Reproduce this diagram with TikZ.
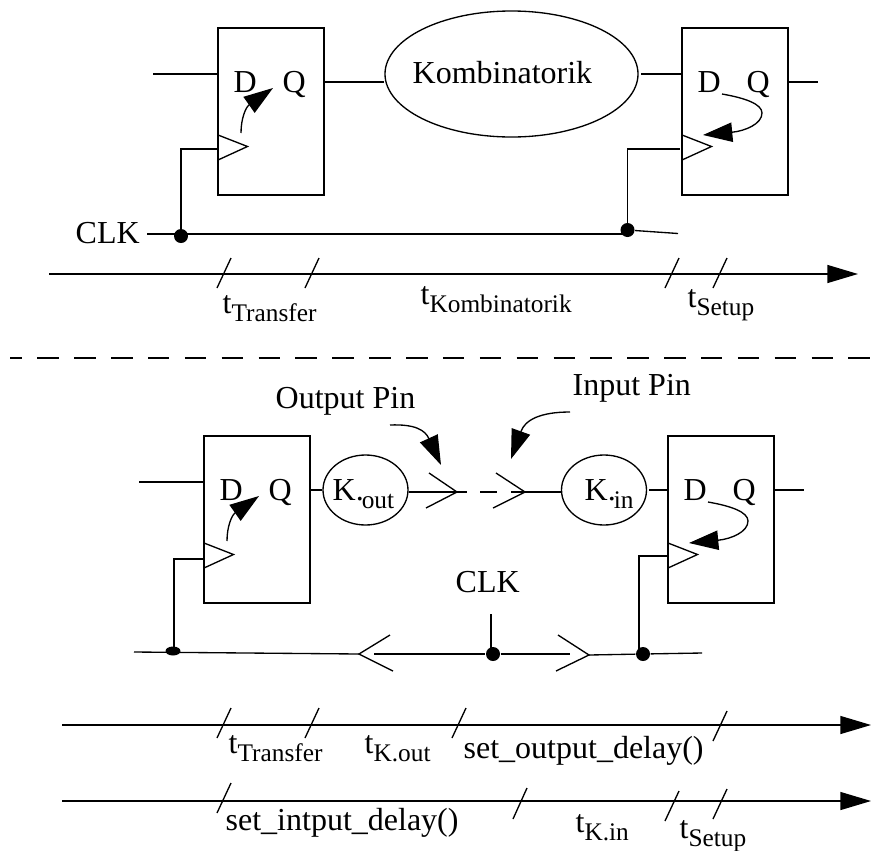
\documentclass[tikz,border=0pt]{standalone}
\usepackage{fontspec}
\setmainfont{Liberation Serif}
\usetikzlibrary{arrows.meta,shapes.geometric}
\newcommand{\subtxt}[1]{\raisebox{-6pt}{\fontsize{19}{22}\selectfont #1}}
\newcommand{\tlabel}[1]{t\subtxt{#1}}
\tikzset{
  sigtext/.style={anchor=base west, inner sep=0pt, font=\fontsize{24}{28}\selectfont},
  ffbox/.style={draw, minimum width=79.5pt, minimum height=125.25pt, inner sep=0pt},
  cloud/.style={draw, ellipse, inner sep=0pt},
  jdot/.style={fill=black, circle, minimum size=10.5pt, inner sep=0pt},
  bigtip/.style={-{Triangle[length=22pt,width=14.5pt]}},
  axtip/.style={-{Triangle[length=23pt,width=13.5pt]}},
}
\begin{document}
\begin{tikzpicture}[x=0.75pt, y=-0.75pt, line width=1pt]
  \useasboundingbox (0,0) rectangle (885,850);
  % Flip-flops
  \foreach \nm/\x/\y in {ffa/218/28, ffb/682/28, ffc/204/436, ffd/668/436} {
    \node[ffbox] (\nm) at (\x+53,\y+83.5) {};
    \node[sigtext] (\nm d) at (\x+15,\y+64) {D};
    \node[sigtext] (\nm q) at (\x+64,\y+64) {Q};
    \draw (\x,\y+107) -- (\x+29.5,\y+118.5) -- (\x,\y+132);
  }
  % Transfer arrows
  \foreach \x/\y in {218/28, 204/436}
    \draw[bigtip, shift={(\x,\y)}] (23,105) .. controls (23,90) and (28,79) .. (55,60);
  % Setup arrows
  \foreach \x/\y in {682/28, 668/436}
    \draw[bigtip, shift={(\x,\y)}] (40,66) .. controls (63,70) and (80,76) .. (80,85)
        .. controls (80,96) and (63,103) .. (21,107);
  % Top logic
  \node[cloud, minimum width=189.75pt, minimum height=94.5pt] (komb) at (511.5,74) {};
  \node[sigtext] (kombt) at (412,83) {Kombinatorik};
  \coordinate (ina) at (153,74);
  \coordinate (qa) at (324,82);
  \coordinate (kombe) at (641,74);
  \coordinate (qb) at (818,82);
  \draw (ina) -- (ffa.west |- ina);
  \draw (qa) -- (komb.west |- qa);
  \draw (kombe) -- (ffb.west |- kombe);
  \draw (ffb.east |- qb) -- (qb);
  % Top clock
  \node[sigtext] (clkt) at (75,243) {CLK};
  \node[jdot] (dota) at (181,236) {};
  \node[jdot] (dotb) at (627.5,230) {};
  \coordinate (clkw) at (147,234);
  \coordinate (clke) at (678,233.5);
  \coordinate (clka) at (218,149);
  \coordinate (clkb) at (680,149);
  \draw (clkw) -- (dotb |- clkw);
  \draw (dotb) -- (clke);
  \draw (dota.center) |- (clka);
  \draw (dotb.center) |- (clkb);
  % Top time line
  \coordinate (axas) at (49,274);
  \coordinate (axae) at (858,274);
  \draw[axtip] (axas) -- (axae);
  \foreach \x in {217,305,665,713} \draw (\x,288) -- ++(14,-30);
  \node[sigtext] (ta) at (222,313) {\tlabel{Transfer}};
  \node[sigtext] (tb) at (420,304) {\tlabel{Kombinatorik}};
  \node[sigtext] (tc) at (687,307) {\tlabel{Setup}};
  % Separator
  \coordinate (sepa) at (10,358);
  \coordinate (sepb) at (870,358);
  \draw[dash pattern=on 16.1pt off 11.55pt, dash phase=7.1pt] (sepa) -- (sepb);
  % Bottom logic
  \node[cloud, minimum width=63.75pt, minimum height=52.5pt] (kout) at (365.5,490) {};
  \node[cloud, minimum width=63.75pt, minimum height=52.5pt] (kin) at (604,490) {};
  \node[sigtext] (koutt) at (332,500) {K.\kern-1.5pt\subtxt{out}};
  \node[sigtext] (kint) at (584,500) {K.\kern-1.5pt\subtxt{in}};
  \coordinate (inc) at (139,482);
  \coordinate (kine) at (649,490);
  \coordinate (qd) at (804,490);
  \coordinate (pina) at (457,492);
  \coordinate (pinb) at (525,492);
  \draw (inc) -- (ffc.west |- inc);
  \draw (ffc.east |- kout) -- (kout);
  \draw (kine) -- (ffd.west |- kine);
  \draw (ffd.east |- qd) -- (qd);
  \draw (kout.east |- pina) -- (467,492);
  \draw (480,492) -- (497,492);
  \draw (511,492) -- (kin.west |- pinb);
  \draw (429,473) -- (pina) -- (426,508);
  \draw (496,473) -- (pinb) -- (493,508);
  % Pin labels
  \node[sigtext] (outpin) at (275,408) {Output Pin};
  \node[sigtext] (inpin) at (572,395) {Input Pin};
  \coordinate (outa) at (390,425);
  \coordinate (outb) at (441,465);
  \coordinate (inb) at (570,412);
  \coordinate (inz) at (511,459);
  \draw[bigtip] (outa) .. controls (415,424) and (425,430) .. (outb);
  \draw[bigtip] (inb) .. controls (540,412) and (525,420) .. (inz);
  % Bottom clock
  \node[sigtext] (clkm) at (455,592) {CLK};
  \node[fill=black, ellipse, minimum width=11.25pt, minimum height=6.75pt, inner sep=0pt] (dotc) at (173,651) {};
  \node[jdot] (dote) at (493,654) {};
  \node[jdot] (dotd) at (643,654) {};
  \coordinate (clkf) at (134,652);
  \coordinate (chl) at (359,654);
  \coordinate (chls) at (374,654);
  \coordinate (chrs) at (570,654);
  \coordinate (chr) at (589,655);
  \coordinate (clkg) at (702,653);
  \coordinate (stem) at (491,614);
  \coordinate (tapd) at (639,654);
  \coordinate (clkc) at (203,559);
  \coordinate (clkd) at (668,556);
  \draw (clkf) -- (chl);
  \draw (chls) -- (dote) -- (chrs);
  \draw (chr) -- (dotd) -- (clkg);
  \draw (390,635) -- (chl) -- (393,671);
  \draw (558,635) -- (chr) -- (556,671);
  \draw (stem) -- (stem |- dote);
  \draw (dotc.center) -| ++(1,-92) |- (clkc);
  \draw (tapd) |- (clkd);
  % Bottom time lines
  \foreach \nm/\y in {axb/725, axc/801} {
    \coordinate (\nm s) at (62,\y);
    \coordinate (\nm e) at (871,\y);
    \draw[axtip] (\nm s) -- (\nm e);
  }
  \foreach \x in {217,305,452} \draw (\x,738) -- ++(14,-30);
  \draw (713,741) -- ++(14,-30);
  \draw (217,813) -- ++(14,-30);
  \draw (513,819) -- ++(14,-31);
  \draw (665,821) -- ++(14,-30);
  \draw (713,819) -- ++(14,-30);
  \node[sigtext] (td) at (228,753) {\tlabel{Transfer}};
  \node[sigtext] (te) at (364,753) {\tlabel{K.out}};
  \node[sigtext] (sod) at (463,758) {set\_output\_delay()};
  \node[sigtext] (sid) at (225,830) {set\_intput\_delay()};
  \node[sigtext] (tf) at (575,832) {\tlabel{K.in}};
  \node[sigtext] (tg) at (679,838) {\tlabel{Setup}};
\end{tikzpicture}
\end{document}
